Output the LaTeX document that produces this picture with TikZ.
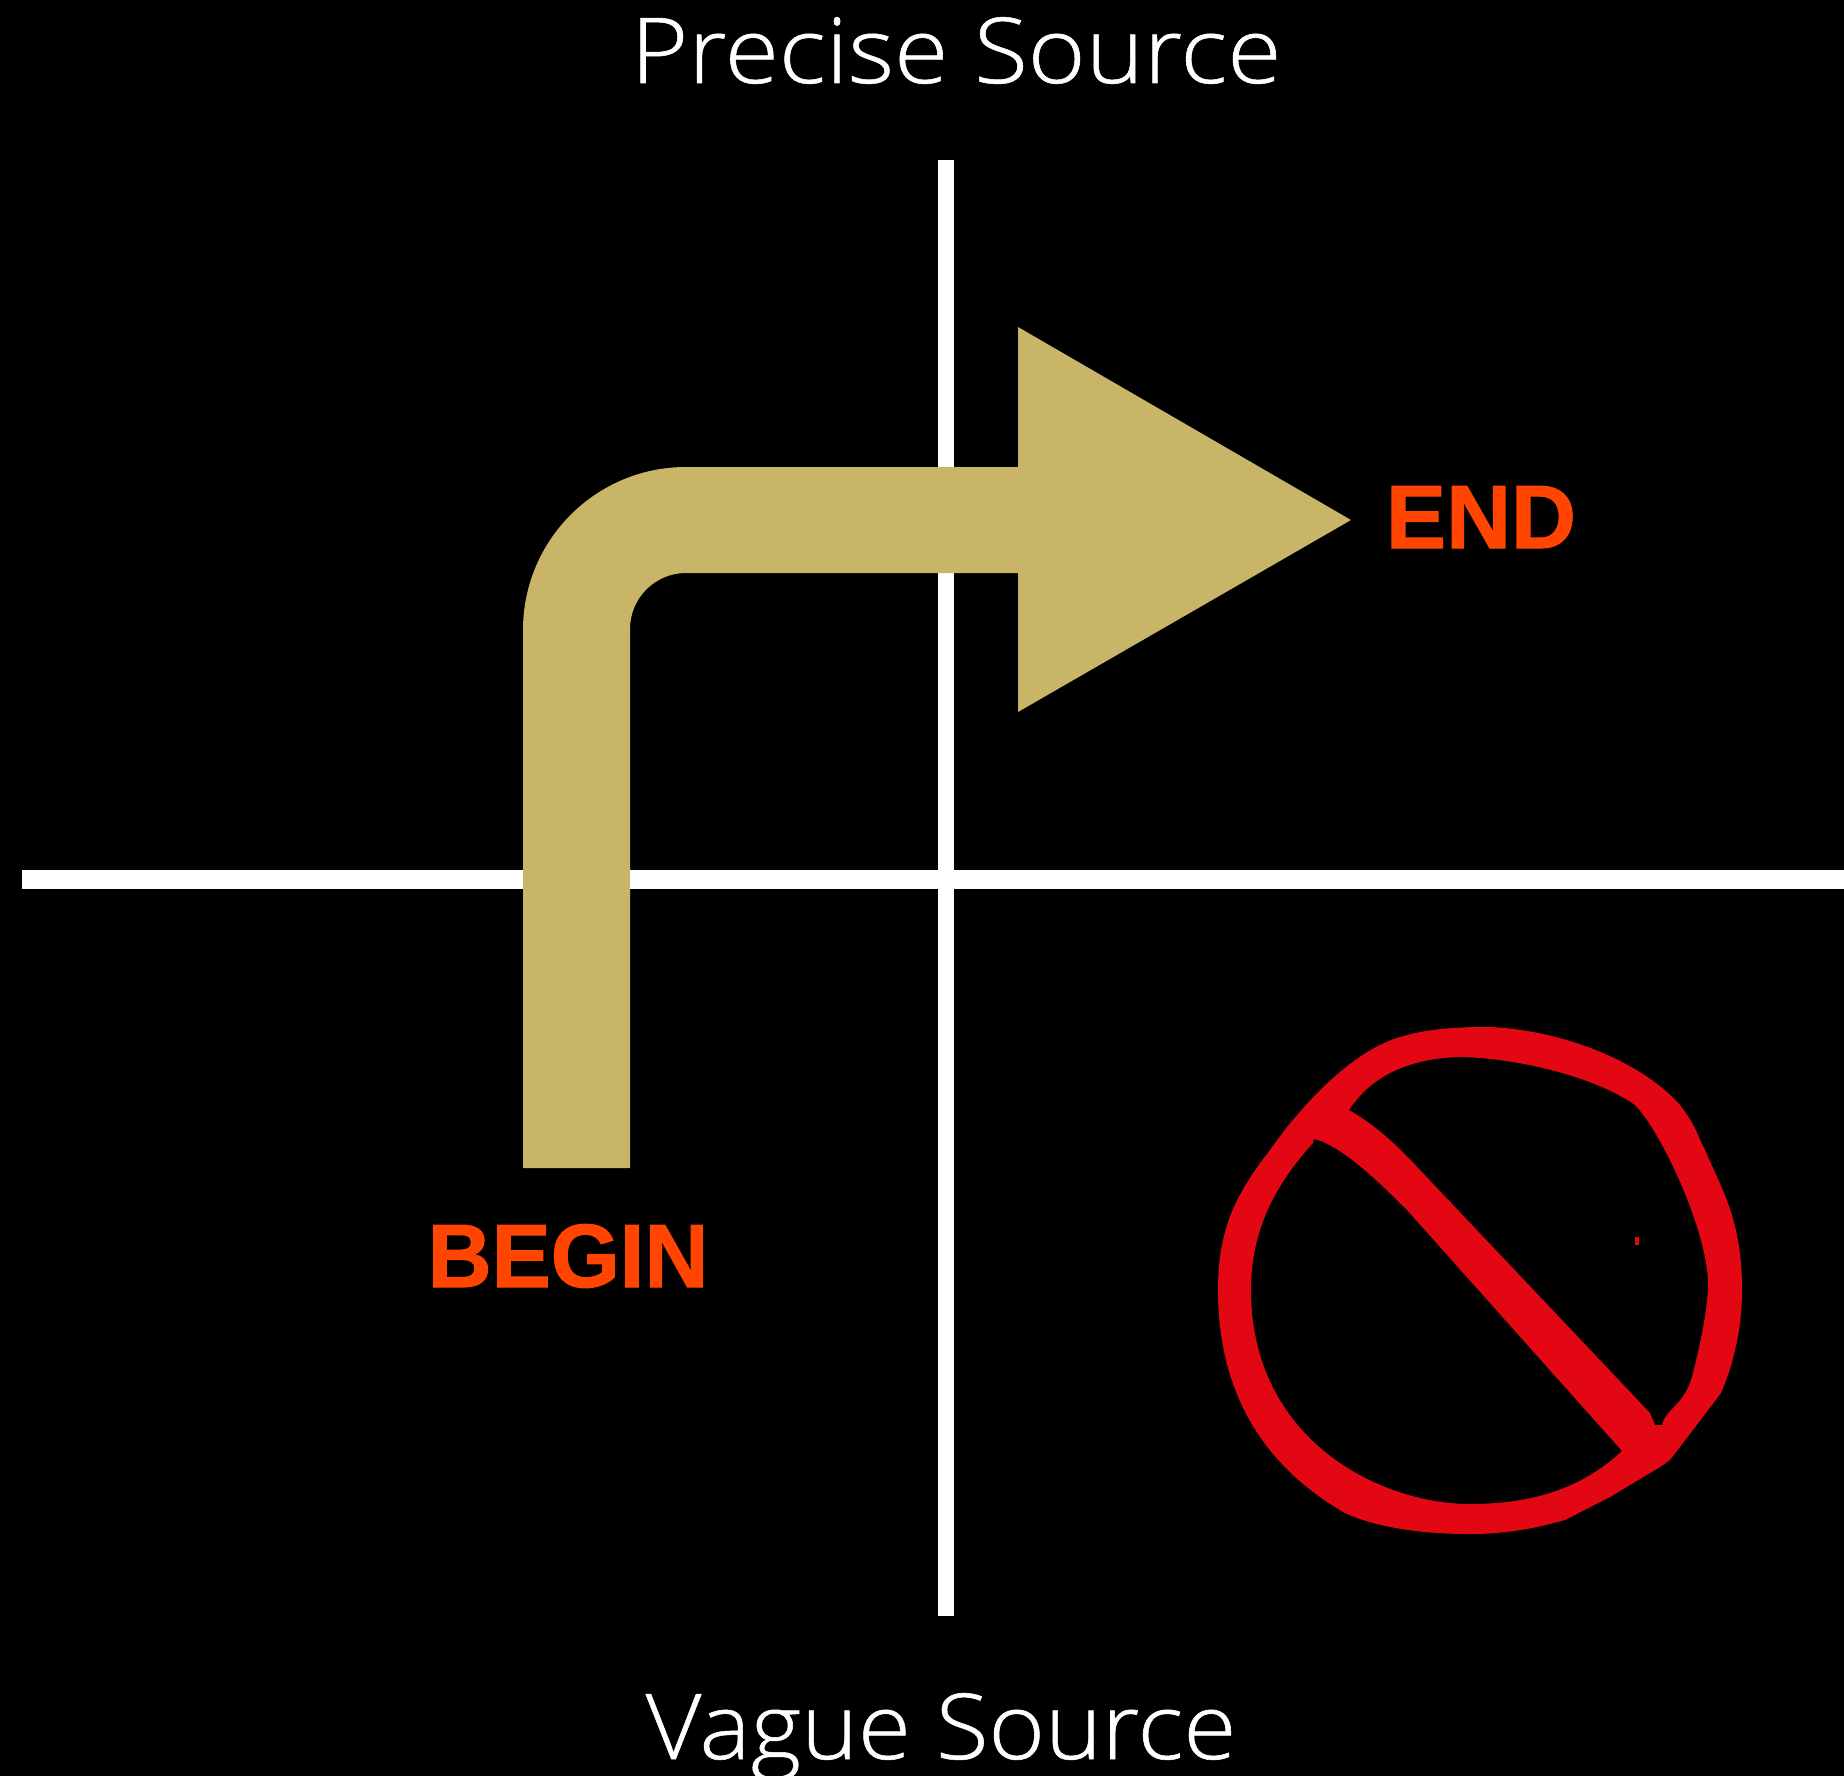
\documentclass[tikz,border=0pt]{standalone}
\usepackage{fontspec}
\setmainfont{Liberation Sans}
\newfontfamily\lightf[FakeBold=0.6]{Open Sans Light}
\newfontfamily\labf[FakeBold=1.2]{Liberation Sans Bold}
\definecolor{gold}{HTML}{C8B568}
\definecolor{orng}{HTML}{FF4500}
\definecolor{redm}{HTML}{E30613}
\tikzset{
 axis/.style={fill=white,draw=none},
 big/.style={text=white,font=\lightf\fontsize{91}{91}\selectfont,inner sep=0pt,anchor=base},
 lab/.style={text=orng,font=\labf\fontsize{90}{90}\selectfont,inner sep=0pt,anchor=base}
}
\begin{document}
\begin{tikzpicture}[x=1pt,y=-1pt]
\fill[black] (0,0) rectangle (1844,1776);
\useasboundingbox (0,0) rectangle (1844,1776);
\fill[axis] (938,160) rectangle (954,1616);
\fill[axis] (22,870) rectangle (1844,889);
\fill[gold] (523,1168) -- (523,630) arc[start angle=180,end angle=270,radius=163] -- (1018,467) -- (1018,327) -- (1351,520) -- (1018,712) -- (1018,573) -- (686,573) arc[start angle=270,end angle=180,radius=56] -- (630,1168) -- cycle;
\node[big] (top) at (956,83) {\scalebox{1.085}[1]{Precise Source}};
\node[big] (bot) at (941,1759) {\scalebox{1.06}[1]{Vague Source}};
\node[lab] (e) at (1481,548) {END};
\node[lab] (b) at (568,1287) {\scalebox{.985}[1]{BEGIN}};
\fill[redm,even odd rule]
 (1565,1520) .. controls (1540,1527) and (1510,1534) .. (1470,1534)
 .. controls (1420,1534) and (1375,1527) .. (1345,1513)
 .. controls (1270,1470) and (1218,1400) .. (1218,1290)
 .. controls (1218,1230) and (1235,1195) .. (1270,1150)
 .. controls (1305,1100) and (1355,1050) .. (1400,1037)
 .. controls (1430,1028) and (1460,1027) .. (1490,1027)
 .. controls (1560,1030) and (1640,1060) .. (1680,1105)
 .. controls (1697,1128) and (1695,1130) .. (1705,1150)
 .. controls (1722,1190) and (1742,1220) .. (1742,1290)
 .. controls (1742,1330) and (1733,1365) .. (1721,1393)
 -- (1670,1460) -- (1660,1467) -- (1610,1497) -- cycle
 (1349,1110) .. controls (1375,1070) and (1420,1057) .. (1465,1057)
 .. controls (1530,1060) and (1600,1080) .. (1635,1105)
 .. controls (1660,1130) and (1708,1230) .. (1708,1285)
 .. controls (1708,1310) and (1698,1355) .. (1691,1380)
 .. controls (1683,1405) and (1665,1410) .. (1662,1425)
 -- (1655,1425) -- (1650,1413) -- (1420,1170)
 .. controls (1395,1143) and (1375,1125) .. (1349,1110) -- cycle
 (1314,1139) .. controls (1340,1145) and (1375,1178) .. (1407,1210)
 -- (1622,1451)
 .. controls (1580,1490) and (1530,1504) .. (1470,1504)
 .. controls (1380,1504) and (1251,1440) .. (1251,1290)
 .. controls (1251,1230) and (1275,1185) .. (1313,1143) -- cycle;
\fill[redm] (1635,1237) rectangle (1639,1245);
\end{tikzpicture}
\end{document}
